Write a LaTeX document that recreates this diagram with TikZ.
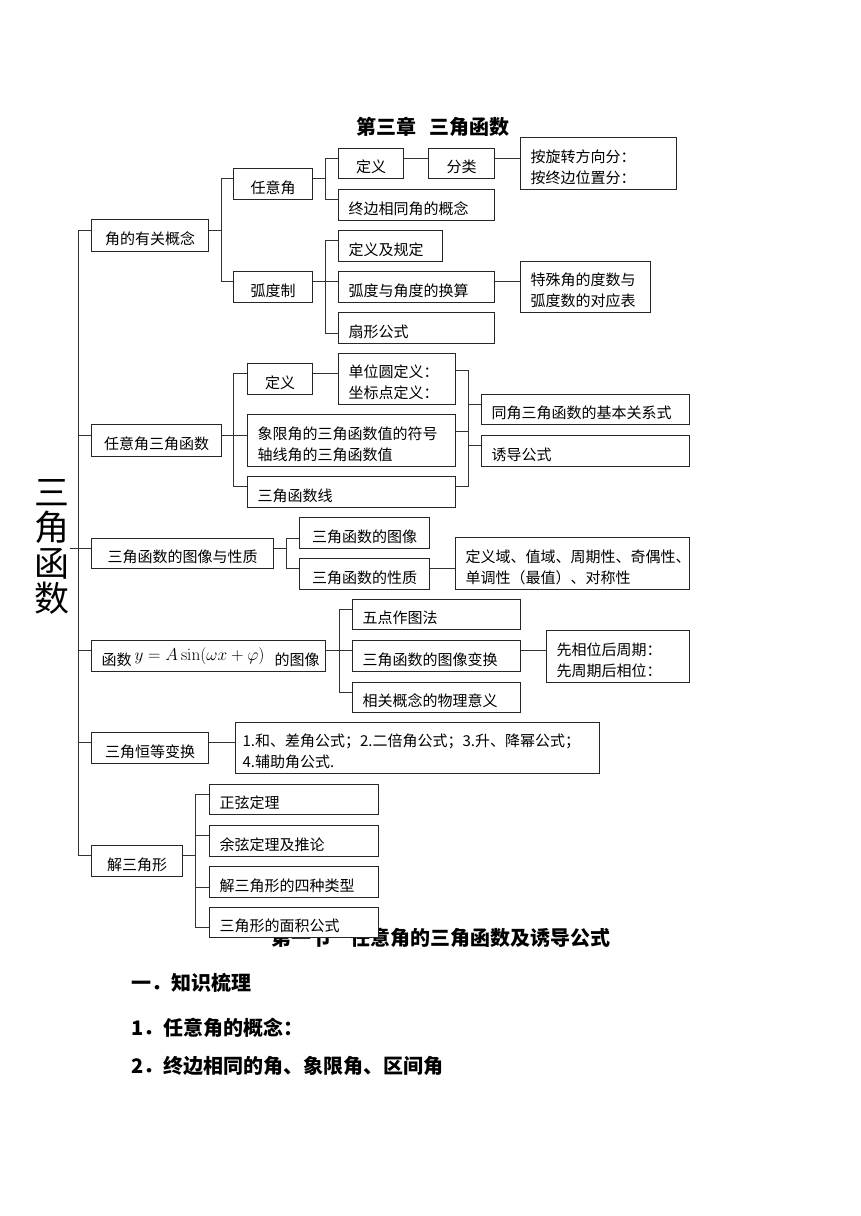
\documentclass[tikz,border=0pt]{standalone}
\usepackage[no-math]{fontspec}
\setmainfont{Noto Sans CJK SC}
\usetikzlibrary{calc}
\tikzset{
  box/.style={draw=black!85, line width=1.1pt, fill=white, inner xsep=10pt, inner ysep=1pt,
    font=\fontsize{15}{21}\selectfont},
  ln/.style={draw=black!80, line width=0.9pt},
  ttl/.style={font=\fontsize{20}{24}\selectfont\bfseries, inner sep=0pt, anchor=west},
}
% #1 west attach fraction, #2 name, #3 x1, #4 y1, #5 x2, #6 y2, #7 align, #8 text
\newcommand\bx[8][.333]{%
  \pgfmathsetmacro\bxw{#5-#3}%
  \pgfmathsetmacro\bxh{#6-#4}%
  \pgfmathsetmacro\bxt{#5-#3-20}%
  \node[box, anchor=north west, minimum width=\bxw pt, minimum height=\bxh pt,
        text width=\bxt pt, align=#7] (#2) at (#3,#4) {\rule{0pt}{20pt}#8};
  \coordinate (#2-w) at ($(#2.north west)!#1!(#2.south west)$);
  \coordinate (#2-e) at ($(#2.north east)!.333!(#2.south east)$);
}
\begin{document}
\begin{tikzpicture}[x=1pt,y=-1pt]
\useasboundingbox[fill=white] (0,0) rectangle (860,1216);

% titles and text
\node[ttl] (t1) at (356,127) {第三章\hspace{13pt}三角函数};
\node[ttl] (t2) at (271,938) {第一节\hspace{19pt}任意角的三角函数及诱导公式};
\node[ttl] (s1) at (131,983) {一．知识梳理};
\node[ttl] (s2) at (131,1028) {1．任意角的概念：};
\node[ttl] (s3) at (131,1066) {2．终边相同的角、象限角、区间角};

\node[inner sep=0pt, align=center, font=\fontsize{35}{35.5}\selectfont] (big) at (52,547) {三\\角\\函\\数};

% level 1
\bx{A}{91}{219}{208}{251}{center}{角的有关概念}
\bx{B}{91}{424}{221}{456}{center}{任意角三角函数}
\bx{C}{91}{538}{273}{568}{center}{三角函数的图像与性质}
\bx{D}{91}{640}{325}{671}{left}{\mbox{函数\kern3pt\raisebox{5pt}{\fontsize{16.5}{21}\selectfont$y=A\sin(\omega x+\varphi)$}\kern10pt 的图像}}
\bx{E}{91}{732}{208}{763}{center}{三角恒等变换}
\bx{F}{91}{845}{182}{876}{center}{解三角形}

% group A
\bx{A1}{233}{168}{312}{199}{center}{任意角}
\bx{A2}{233}{271}{312}{302}{center}{弧度制}
\bx{A11}{338}{148}{403}{178}{center}{定义}
\bx{A12}{428}{148}{494}{178}{center}{分类}
\bx{A13}{520}{137}{676}{189}{left}{按旋转方向分：\\按终边位置分：}
\bx{A14}{338}{189}{494}{220}{left}{终边相同角的概念}
\bx{A21}{338}{230}{442}{261}{left}{定义及规定}
\bx{A22}{338}{271}{494}{302}{left}{弧度与角度的换算}
\bx{A23}{520}{261}{650}{312}{left}{特殊角的度数与\\弧度数的对应表}
\bx[.667]{A24}{338}{312}{494}{343}{left}{扇形公式}

% group B
\bx{B1}{247}{363}{312}{394}{center}{定义}
\bx{B11}{338}{353}{455}{404}{left}{单位圆定义：\\坐标点定义：}
\bx[.4]{B2}{247}{414}{455}{466}{left}{象限角的三角函数值的符号\\轴线角的三角函数值}
\bx{B3}{247}{476}{455}{507}{left}{三角函数线}
\bx{B4}{481}{394}{689}{424}{left}{同角三角函数的基本关系式}
\bx{B5}{481}{435}{689}{466}{left}{诱导公式}

% group C
\bx[.667]{C1}{299}{517}{429}{548}{center}{三角函数的图像}
\bx{C2}{299}{558}{429}{589}{center}{三角函数的性质}
\bx{C3}{455}{537}{689}{589}{left}{定义域、值域、周期性、奇偶性、\\单调性（最值）、对称性}

% group D
\bx{D1}{352}{599}{520}{629}{left}{五点作图法}
\bx{D2}{352}{640}{520}{671}{left}{三角函数的图像变换}
\bx{D3}{352}{682}{520}{712}{left}{相关概念的物理意义}
\bx{D4}{546}{630}{689}{682}{left}{先相位后周期：\\先周期后相位：}

% group E
\bx{E1}{235}{722}{599}{773}{left}{\hspace*{-3pt}1.和、差角公式；2.二倍角公式；3.升、降幂公式；\\\hspace*{-3pt}4.辅助角公式.}

% group F
\bx{F1}{209}{784}{378}{814}{left}{正弦定理}
\bx{F2}{209}{825}{378}{856}{left}{余弦定理及推论}
\bx[.667]{F3}{209}{866}{378}{897}{left}{解三角形的四种类型}
\bx[.667]{F4}{209}{907}{378}{937}{left}{三角形的面积公式}

% connectors
\coordinate (sp) at (78,0);
\draw[ln] (A-w -| sp) -- (F-w -| sp);
\foreach \ch in {A,B,C,D,E,F} \draw[ln] (\ch-w -| sp) -- (\ch-w);
\draw[ln] (C-w -| big.east) -- (C-w -| sp);

\coordinate (bA) at (221,0);
\foreach \ch in {A1,A2} \draw[ln] (A-e) -| (bA |- \ch-w) -- (\ch-w);
\coordinate (bA1) at (325,0);
\foreach \ch in {A11,A14} \draw[ln] (A1-e) -| (bA1 |- \ch-w) -- (\ch-w);
\foreach \ch in {A21,A22,A24} \draw[ln] (A2-e) -| (bA1 |- \ch-w) -- (\ch-w);
\draw[ln] (A11-e) -- (A11-e -| A12.west);
\draw[ln] (A12-e) -- (A12-e -| A13.west);
\draw[ln] (A22-e) -- (A22-e -| A23.west);

\coordinate (bB) at (233,0);
\foreach \ch in {B1,B2,B3} \draw[ln] (B-e) -| (bB |- \ch-w) -- (\ch-w);
\draw[ln] (B1-e) -- (B1-e -| B11.west);
\coordinate (bB2) at (468,0);
\draw[ln] (B11-e) -| (bB2 |- B3-e) -- (B3-e);
\draw[ln] (B2-e) -- (B2-e -| bB2);
\draw[ln] (B4-w -| bB2) -- (B4-w);
\draw[ln] (B5-w -| bB2) -- (B5-w);

\coordinate (bC) at (286,0);
\foreach \ch in {C1,C2} \draw[ln] (C-e) -| (bC |- \ch-w) -- (\ch-w);
\draw[ln] (C2-e) -- (C2-e -| C3.west);

\coordinate (bD) at (339,0);
\foreach \ch in {D1,D2,D3} \draw[ln] (D-e) -| (bD |- \ch-w) -- (\ch-w);
\draw[ln] (D2-e) -- (D2-e -| D4.west);

\draw[ln] (E-e) -- (E-e -| E1.west);

\coordinate (bF) at (195,0);
\foreach \ch in {F1,F2,F3,F4} \draw[ln] (F-e) -| (bF |- \ch-w) -- (\ch-w);
\end{tikzpicture}
\end{document}
